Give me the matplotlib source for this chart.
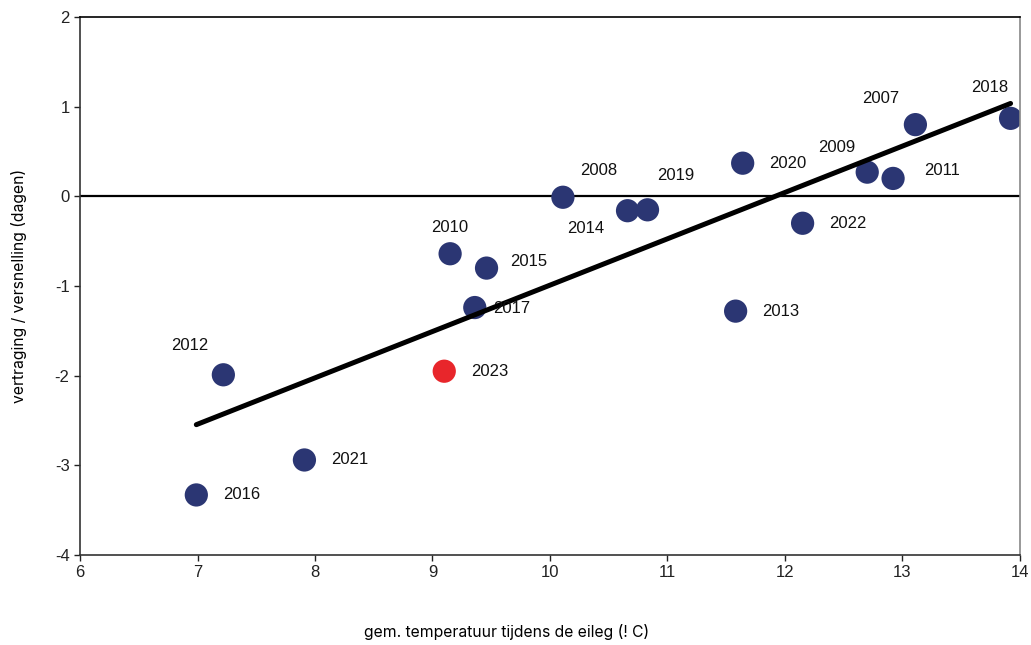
import numpy as np
import matplotlib.pyplot as plt

plt.rcParams['font.family'] = ['Liberation Sans', 'DejaVu Sans']
plt.rcParams['axes.unicode_minus'] = False

years = ['2016', '2012', '2021', '2023', '2010', '2017', '2015', '2008', '2014',
         '2019', '2013', '2020', '2022', '2009', '2011', '2007', '2018']
temp = [6.99, 7.22, 7.91, 9.10, 9.15, 9.36, 9.46, 10.11, 10.66,
        10.83, 11.58, 11.64, 12.15, 12.70, 12.92, 13.11, 13.92]
shift = [-3.33, -1.99, -2.94, -1.95, -0.64, -1.24, -0.80, -0.01, -0.16,
         -0.15, -1.28, 0.37, -0.30, 0.27, 0.20, 0.80, 0.87]

# label offsets (points) relative to marker
offsets = {
    '2016': (19, 0, 'left'), '2012': (-24, 21, 'center'), '2021': (19, 0, 'left'),
    '2023': (19, 0, 'left'), '2010': (0, 19, 'center'), '2017': (13, -1, 'left'),
    '2015': (17, 5, 'left'), '2008': (26, 19, 'center'), '2014': (-30, -13, 'center'),
    '2019': (20, 25, 'center'), '2013': (19, 0, 'left'), '2020': (19, 0, 'left'),
    '2022': (19, 0, 'left'), '2009': (-22, 18, 'center'), '2011': (22, 6, 'left'),
    '2007': (-25, 19, 'center'), '2018': (-15, 22, 'center'),
}

navy = '#2B3673'
red = '#E8262B'

fig = plt.figure(figsize=(10.31, 6.45), dpi=100)
ax = fig.add_axes([0.0776, 0.1395, 0.9117, 0.8341])

ax.axhline(0, color='black', lw=1.6, zorder=1)

# trend line
coef = np.polyfit(temp, shift, 1)
xs = np.array([min(temp), max(temp)])
ax.plot(xs, np.polyval(coef, xs), color='black', lw=3.6, solid_capstyle='round', zorder=3)

colors = [red if y == '2023' else navy for y in years]
ax.scatter(temp, shift, s=280, c=colors, edgecolors='none', zorder=2)

for yr, x, y in zip(years, temp, shift):
    dx, dy, ha = offsets[yr]
    ax.annotate(yr, (x, y), xytext=(dx, dy), textcoords='offset points',
                ha=ha, va='center', fontsize=12, color='#111111')

ax.set_xlim(6, 14)
ax.set_ylim(-4, 2)
ax.set_xticks(range(6, 15))
ax.set_yticks(range(-4, 3))
ax.tick_params(direction='out', length=4, width=1, labelsize=12, colors='#222222')
ax.spines['left'].set_color('#333333')
ax.spines['bottom'].set_color('#333333')
ax.spines['top'].set_color('black')
ax.spines['right'].set_color('#888888')
for s in ax.spines.values():
    s.set_linewidth(1.2)

fig.text(0.353, 0.008, 'gem. temperatuur tijdens de eileg (! C)', fontsize=11.3,
         ha='left', va='bottom', family=['Inter', 'DejaVu Sans'])
ax.set_ylabel('vertraging / versnelling (dagen)', fontsize=11.3, family=['Inter', 'DejaVu Sans'],
              labelpad=20)

fig.savefig('out.png', dpi=100)
